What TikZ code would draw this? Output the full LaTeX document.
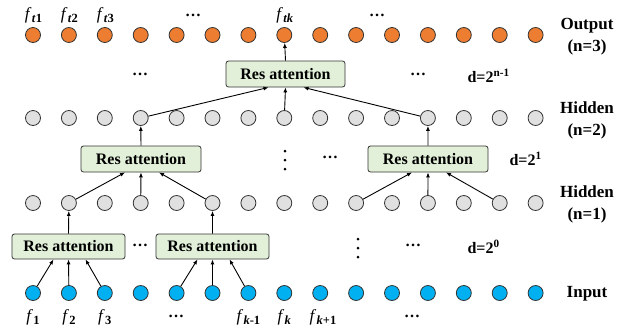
\documentclass[tikz,border=0pt]{standalone}
\usepackage{fontspec}
\setmainfont{Liberation Serif}
\usetikzlibrary{arrows.meta}
\definecolor{outc}{HTML}{ED7D31}
\definecolor{inc}{HTML}{00B0F0}
\definecolor{hidc}{HTML}{E0E0E0}
\definecolor{boxc}{HTML}{E2F0D9}
\definecolor{edgec}{HTML}{333333}
\newcommand{\fsub}[1]{\textit{f}\kern0.3pt\raisebox{-3.5pt}{\fontsize{12.5}{13}\selectfont\bfseries #1}}
\begin{document}
\begin{tikzpicture}[x=1pt,y=-1pt,
  neuron/.style={circle,draw=edgec,line width=0.8pt,minimum size=15pt,inner sep=0pt},
  outn/.style={neuron,fill=outc},
  hidn/.style={neuron,fill=hidc},
  inn/.style={neuron,fill=inc},
  resbox/.style={draw=edgec,line width=0.8pt,fill=boxc,rounded corners=2.5pt,minimum height=26pt,inner sep=0pt,font=\fontsize{16}{18}\selectfont\bfseries},
  arr/.style={-{Latex[length=5pt,width=4pt]},line width=0.9pt,black},
  lab/.style={font=\fontsize{17}{22}\selectfont\bfseries,align=center},
  flab/.style={font=\fontsize{17}{19}\selectfont},
  dlab/.style={font=\fontsize{16}{18}\selectfont\bfseries,anchor=west},
  hdots/.style={font=\fontsize{16}{18}\selectfont\bfseries},
  vdot/.style={circle,fill=black,inner sep=0pt,minimum size=3pt}
]
\useasboundingbox (0,0) rectangle (623,333);
\foreach \i in {0,...,14}{
  \node[outn] (o\i) at ({33+35.9*\i},35) {};
  \node[hidn] (h\i) at ({33+35.9*\i},118) {};
  \node[hidn] (g\i) at ({33+35.9*\i},203) {};
  \node[inn] (x\i) at ({33+35.9*\i},293) {};
}
% boxes
\node[resbox,minimum width=119pt] (top) at (285.5,74) {Res attention};
\node[resbox,minimum width=120pt] (mL) at (141,159) {Res attention};
\node[resbox,minimum width=120pt] (mR) at (428,159) {Res attention};
\node[resbox,minimum width=113pt,minimum height=25pt] (bA) at (68.5,246.5) {Res attention};
\node[resbox,minimum width=113pt,minimum height=25pt] (bB) at (212.5,246.5) {Res attention};
% arrows level 1
\draw[arr] (x0) -- ([xshift=-15pt]bA.south);
\draw[arr] (x1) -- (bA.south);
\draw[arr] (x2) -- ([xshift=17pt]bA.south);
\draw[arr] (x4) -- ([xshift=-15pt]bB.south);
\draw[arr] (x5) -- (bB.south);
\draw[arr] (x6) -- ([xshift=17pt]bB.south);
\draw[arr] (bA.north) -- (g1);
\draw[arr] (bB.north) -- (g5);
% arrows level 2
\draw[arr] (g1) -- ([xshift=-16pt]mL.south);
\draw[arr] (g3) -- (mL.south);
\draw[arr] (g5) -- ([xshift=18pt]mL.south);
\draw[arr] (g9) -- ([xshift=-16pt]mR.south);
\draw[arr] (g11) -- (mR.south);
\draw[arr] (g13) -- ([xshift=18pt]mR.south);
\draw[arr] (mL.north) -- (h3);
\draw[arr] (mR.north) -- (h11);
% arrows level 3
\draw[arr] (h3) -- ([xshift=-17pt]top.south);
\draw[arr] (h7) -- (top.south);
\draw[arr] (h11) -- ([xshift=18pt]top.south);
\draw[arr] (top.north) -- (o7);
% output labels
\node[flab] (lt1) at (33.5,15) {\fsub{\textit{t}1}};
\node[flab] (lt2) at (69.4,15) {\fsub{\textit{t}2}};
\node[flab] (lt3) at (105.3,15) {\fsub{\textit{t}3}};
\node[flab] (ltk) at (284.8,15) {\fsub{\textit{tk}}};
\node[hdots] (od1) at (193,15) {…};
\node[hdots] (od2) at (377,15) {…};
% input labels
\node[flab] (l1) at (33,317) {\fsub{1}};
\node[flab] (l2) at (68.9,317) {\fsub{2}};
\node[flab] (l3) at (104.8,317) {\fsub{3}};
\node[flab] (lk1) at (248.4,317) {\fsub{\textit{k}-1}};
\node[flab] (lk) at (284.3,317) {\fsub{\textit{k}}};
\node[flab] (lk2) at (323,317) {\fsub{\textit{k}+1}};
\node[hdots] (id1) at (176,316) {…};
\node[hdots] (id2) at (412,316) {…};
% row dots
\node[hdots] (r3a) at (140,74) {…};
\node[hdots] (r3b) at (418,74) {…};
\node[hdots] (r2b) at (330,157) {…};
\node[hdots] (r1a) at (140,245) {…};
\node[hdots] (r1c) at (413,245) {…};
\foreach \y in {151,160,169}{\node[vdot] at (285,\y) {};}
\foreach \y in {239,248,257}{\node[vdot] at (358,\y) {};}
% d labels
\node[dlab] (d3) at (464,76) {d=2\textsuperscript{n-1}};
\node[dlab] (d2) at (506,159) {d=2\textsuperscript{1}};
\node[dlab] (d1) at (464,247) {d=2\textsuperscript{0}};
% right labels
\node[lab] (lo) at (587,37) {Output\\(n=3)};
\node[lab] (lh2) at (587,120) {Hidden\\(n=2)};
\node[lab] (lh1) at (587,204) {Hidden\\(n=1)};
\node[lab] (li) at (587,294) {Input};
\end{tikzpicture}
\end{document}
